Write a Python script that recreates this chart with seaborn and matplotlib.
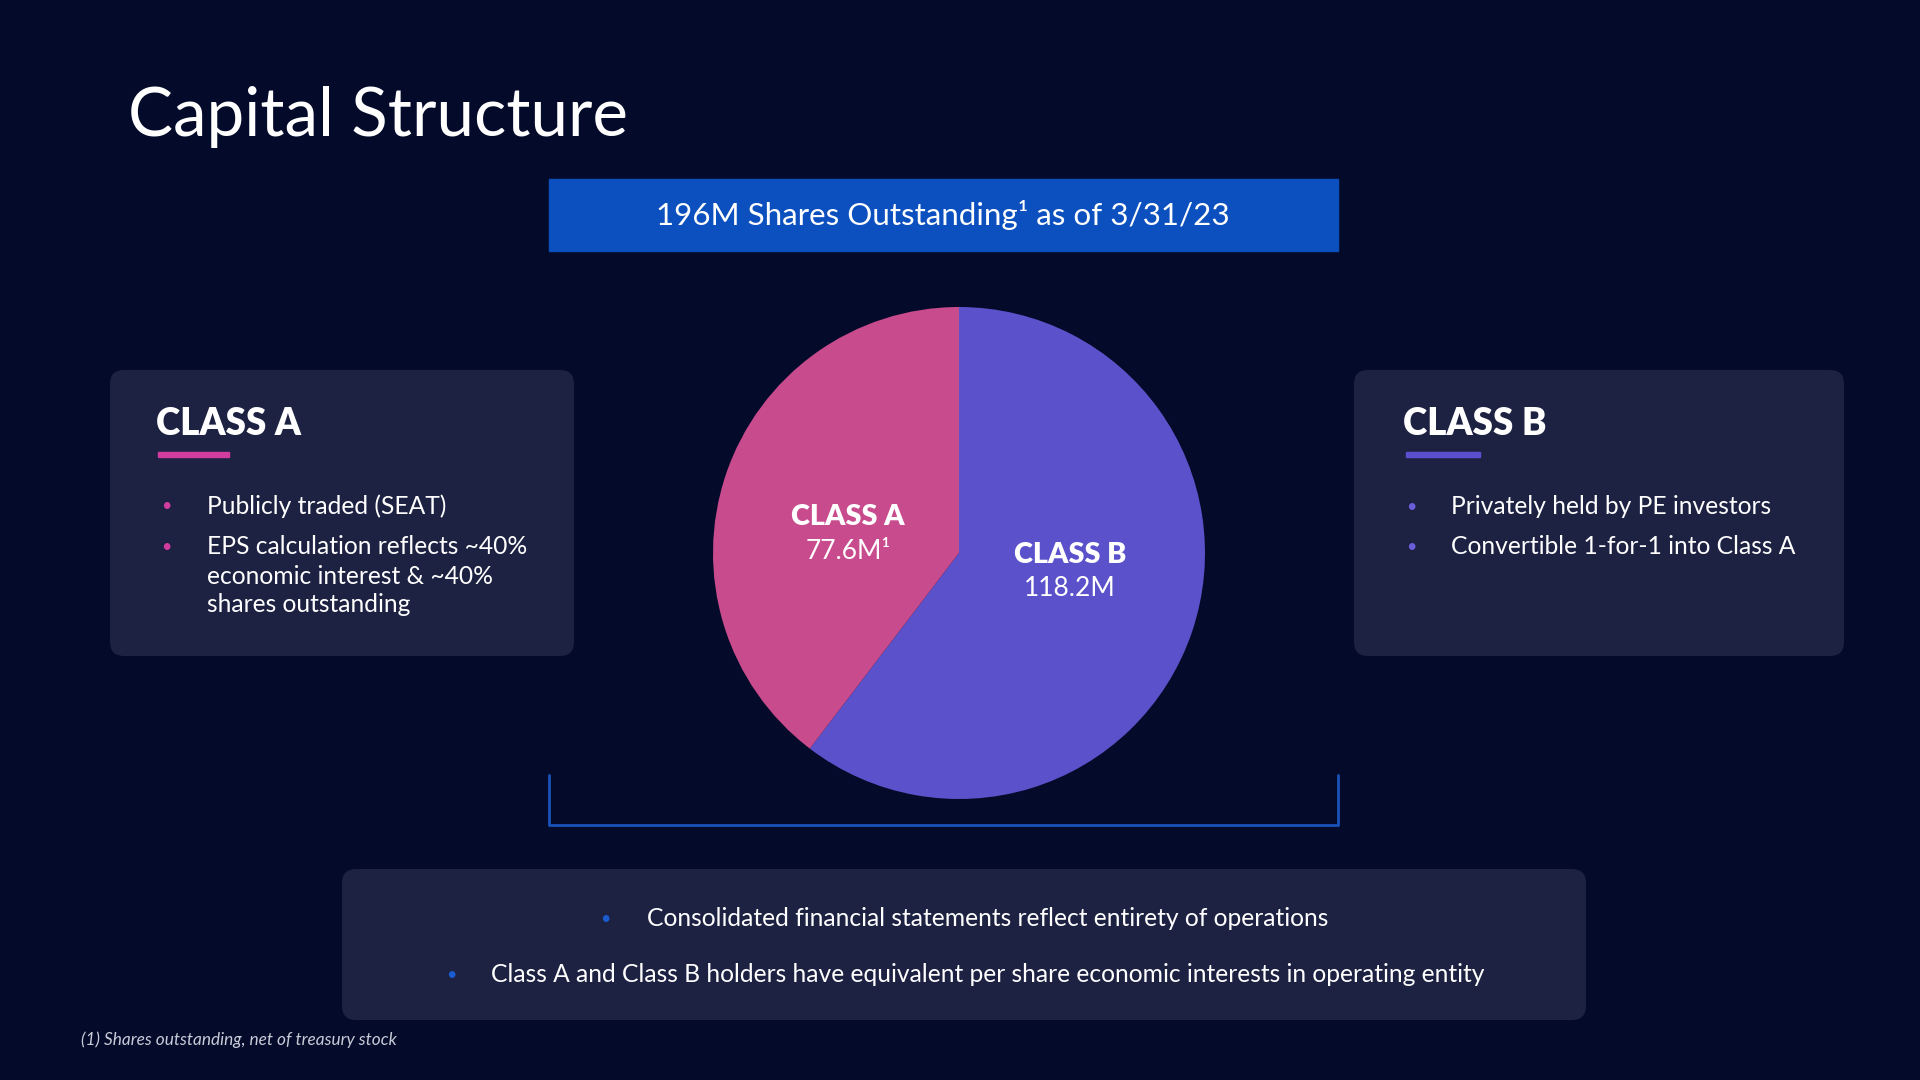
import numpy as np
import matplotlib.pyplot as plt
import seaborn as sns
from matplotlib.patches import FancyBboxPatch, Rectangle

# Data
classes = ["CLASS B", "CLASS A"]
shares_m = [118.2, 77.6]
value_labels = ["118.2M", "77.6M\u00b9"]
slice_colors = ["#5B52CB", "#C84B8D"]

class_a_points = [["Publicly traded (SEAT)"],
                  ["EPS calculation reflects ~40%", "economic interest & ~40%", "shares outstanding"]]
class_b_points = ["Privately held by PE investors",
                  "Convertible 1-for-1 into Class A"]
bottom_points = ["Consolidated financial statements reflect entirety of operations",
                 "Class A and Class B holders have equivalent per share economic interests in operating entity"]

BG = "#040A2A"
PANEL = "#1D2142"
BLUE = "#0B50BE"
BODY = 17.7

sns.set_theme(style="dark", rc={"figure.facecolor": BG, "axes.facecolor": BG})
plt.rcParams["font.family"] = ["Lato", "DejaVu Sans"]

fig = plt.figure(figsize=(19.2, 10.8), dpi=100)

# overlay in pixel coordinates for the slide furniture
bg = fig.add_axes([0, 0, 1, 1], zorder=0)
bg.set_xlim(0, 1920)
bg.set_ylim(1080, 0)
bg.axis("off")

bg.text(128, 117, "Capital Structure", color="white", fontsize=48.5, va="center", ha="left")

# banner
bg.add_patch(Rectangle((549, 179), 789, 72, color=BLUE))
bg.text(943, 215, "196M Shares Outstanding\u00b9 as of 3/31/23", color="white",
        fontsize=22.6, ha="center", va="center")

# bracket under the pie
bg.plot([549, 549, 1338, 1338], [775, 825, 825, 775], color="#1A52B8", lw=2)

def panel(x, y, w, h):
    bg.add_patch(FancyBboxPatch((x, y), w, h, boxstyle="round,pad=0,rounding_size=14",
                                facecolor=PANEL, edgecolor="none"))

# Class A panel
panel(110, 370, 464, 286)
bg.text(156, 424, "CLASS A", color="white", fontsize=26.5, fontweight="heavy", va="center")
bg.add_patch(Rectangle((158, 452), 71, 5, color="#D13C9E"))
for lines, y in zip(class_a_points, [506, 547]):
    bg.text(166, y, "\u2022", color="#D13C9E", fontsize=13, va="center", ha="center")
    for i, line in enumerate(lines):
        bg.text(207, y + 29 * i, line, color="white", fontsize=BODY, va="center", ha="left")

# Class B panel
panel(1354, 370, 490, 286)
bg.text(1403, 424, "CLASS B", color="white", fontsize=26.5, fontweight="heavy", va="center")
bg.add_patch(Rectangle((1406, 452), 74, 5, color="#5B4FD0"))
for txt, y in zip(class_b_points, [507, 547]):
    bg.text(1411, y, "\u2022", color="#6A5FD8", fontsize=13, va="center", ha="center")
    bg.text(1451, y, txt, color="white", fontsize=BODY, va="center", ha="left")

# bottom panel
panel(342, 869, 1244, 151)
for txt, y, xd, xt in zip(bottom_points, [919, 975], [605, 451], [647, 491]):
    bg.text(xd, y, "\u2022", color="#1A5BD0", fontsize=13, va="center", ha="center")
    bg.text(xt, y, txt, color="white", fontsize=BODY, va="center", ha="left")

bg.text(81, 1040, "(1) Shares outstanding, net of treasury stock", color="#C9CBD8",
        fontsize=12.4, style="italic", va="center")

# pie
cx, cy, r = 959, 553, 246
pie_ax = fig.add_axes([(cx - r) / 1920, (1080 - cy - r) / 1080, 2 * r / 1920, 2 * r / 1080], zorder=2)
pie_ax.patch.set_alpha(0)
wedges, _ = pie_ax.pie(shares_m, colors=slice_colors, startangle=90, counterclock=False,
                       wedgeprops={"linewidth": 0})
pie_ax.set_xlim(-1, 1)
pie_ax.set_ylim(-1, 1)
pie_ax.set_aspect("equal")

for w, name, val in zip(wedges, classes, value_labels):
    mid = np.deg2rad((w.theta1 + w.theta2) / 2)
    lx, ly = 0.475 * np.cos(mid), 0.475 * np.sin(mid) * 0.5
    pie_ax.text(lx, ly + 0.069, name, color="white", fontsize=20.7, fontweight="heavy",
                ha="center", va="center")
    pie_ax.text(lx, ly - 0.069, val, color="white", fontsize=19, ha="center", va="center")

fig.savefig("out.png", dpi=100, facecolor=BG)
